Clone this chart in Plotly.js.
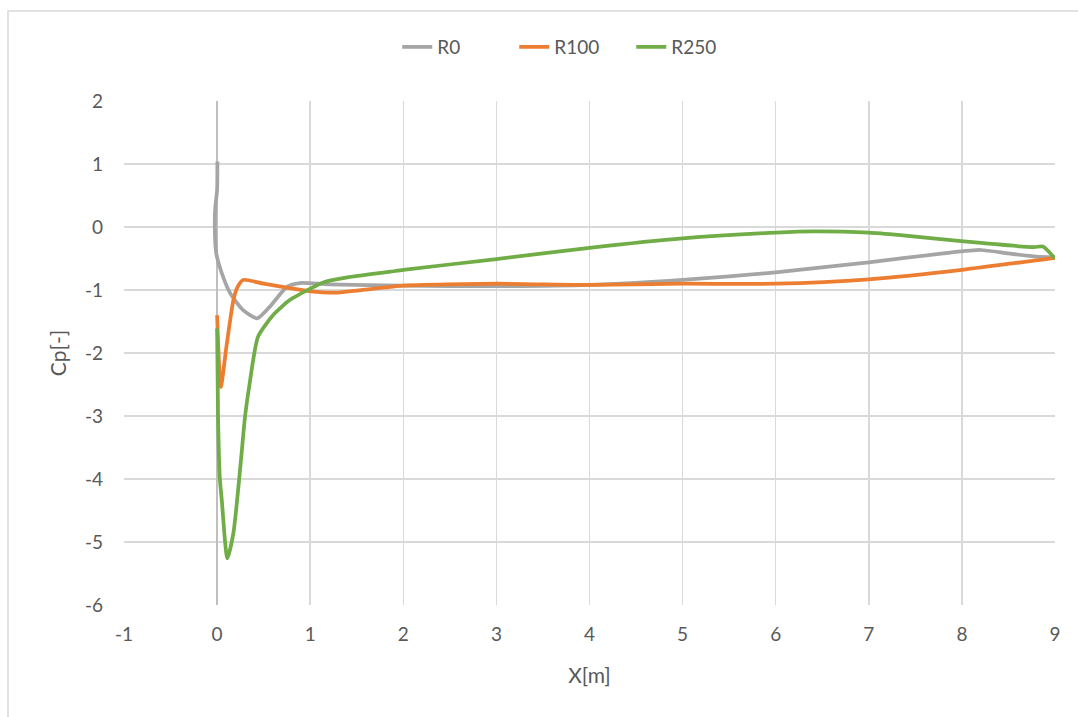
<!DOCTYPE html>
<html>
<head>
<meta charset="utf-8">
<script src="https://cdn.plot.ly/plotly-3.0.1.min.js"></script>
<style>
html,body{margin:0;padding:0;background:#fff;}
#chart{width:1078px;height:717px;}
</style>
</head>
<body>
<div id="chart"></div>
<script>
const seriesNames = ["R0", "R100", "R250"];
const r0X = [0.003, 0.0, -0.02, -0.025, -0.01, 0.05, 0.14, 0.28, 0.43, 0.57, 0.75, 0.89, 1.2, 2, 3, 4, 5, 6, 7, 7.8, 8.2, 8.5, 8.8, 9];
const r0Y = [1.04, 0.59, 0.3, 0.06, -0.41, -0.73, -1.05, -1.32, -1.45, -1.26, -0.95, -0.89, -0.91, -0.93, -0.94, -0.92, -0.84, -0.72, -0.56, -0.42, -0.365, -0.42, -0.47, -0.48];
const r100X = [0.0, 0.04, 0.1, 0.175, 0.22, 0.28, 0.5, 0.78, 1.0, 1.3, 1.86, 2, 3, 4, 5, 6, 7, 8, 9];
const r100Y = [-1.40, -2.54, -1.9, -1.16, -0.95, -0.84, -0.9, -0.97, -1.02, -1.04, -0.95, -0.93, -0.9, -0.92, -0.9, -0.9, -0.83, -0.68, -0.49];
const r250X = [0.0, 0.01, 0.03, 0.05, 0.11, 0.175, 0.25, 0.3, 0.35, 0.44, 0.6, 0.78, 1.0, 1.14, 1.4, 1.86, 2, 3, 4, 5, 6, 6.4, 7, 7.34, 8.02, 8.77, 8.87, 9];
const r250Y = [-1.61, -3.01, -4.0, -4.33, -5.26, -4.86, -3.8, -3.01, -2.48, -1.74, -1.4, -1.16, -0.98, -0.88, -0.8, -0.71, -0.68, -0.51, -0.33, -0.18, -0.09, -0.07, -0.09, -0.13, -0.23, -0.32, -0.31, -0.5];
const xTicks = [-1, 0, 1, 2, 3, 4, 5, 6, 7, 8, 9];
const yTicks = [2, 1, 0, -1, -2, -3, -4, -5, -6];

const colors = ["#a5a5a5", "#ed7d31", "#70ad47"];
const xs = [r0X, r100X, r250X];
const ys = [r0Y, r100Y, r250Y];
const traces = seriesNames.map((n, i) => ({
  x: xs[i], y: ys[i], name: n, type: "scatter", mode: "lines",
  line: {color: colors[i], width: 3.75, shape: "spline", smoothing: 0.6}
}));

const font = "Lato, Carlito, 'Open Sans', sans-serif";
const layout = {
  width: 1078, height: 717,
  margin: {l: 124, r: 23, t: 101, b: 112},
  paper_bgcolor: "#ffffff", plot_bgcolor: "#ffffff",
  font: {family: font, size: 19, color: "#595959"},
  showlegend: true,
  legend: {orientation: "h", x: 0.482, xanchor: "center", y: 1.107, yanchor: "middle",
           font: {size: 19, color: "#595959"}, itemwidth: 30, tracegroupgap: 0,
           entrywidth: 72, entrywidthmode: "pixels"},
  xaxis: {
    range: [-1, 9], tickvals: xTicks, ticktext: xTicks.map(String),
    showgrid: true, gridcolor: "#d9d9d9", gridwidth: 1.5,
    zeroline: true, zerolinecolor: "#bfbfbf", zerolinewidth: 1.5,
    showline: false, ticks: "", ticklabelstandoff: 16,
    title: {text: "X[m]", font: {size: 21, color: "#595959"}, standoff: 24},
    tickfont: {size: 19, color: "#595959"}
  },
  yaxis: {
    range: [-6, 2], tickvals: yTicks, ticktext: yTicks.map(String),
    showgrid: true, gridcolor: "#d9d9d9", gridwidth: 1.5,
    zeroline: false, showline: false, ticks: "", ticklabelstandoff: 20,
    title: {text: "Cp[-]", font: {size: 21, color: "#595959"}, standoff: 12},
    tickfont: {size: 19, color: "#595959"}
  },
  shapes: [{
    type: "rect", xref: "paper", yref: "paper",
    x0: -0.1246, x1: 1.2, y0: -0.5, y1: 1.1786,
    line: {color: "#d9d9d9", width: 1.5}, fillcolor: "rgba(0,0,0,0)", layer: "below"
  }]
};
Plotly.newPlot("chart", traces, layout, {displayModeBar: false, staticPlot: true});
</script>
</body>
</html>
